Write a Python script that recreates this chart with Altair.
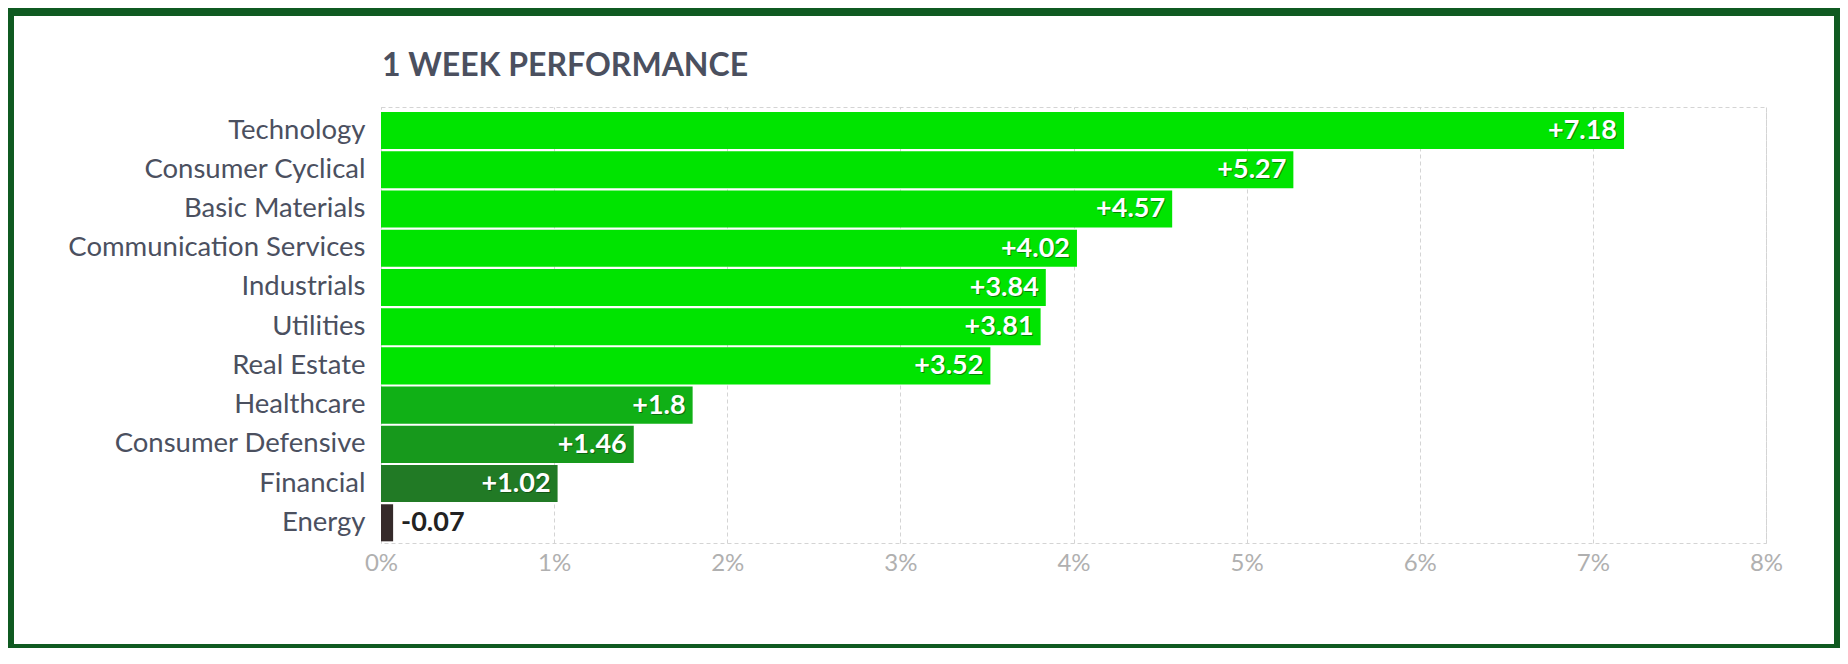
import altair as alt
import pandas as pd

# ---- data ----
title_text = "1 WEEK PERFORMANCE"
sectors = ["Technology", "Consumer Cyclical", "Basic Materials", "Communication Services",
           "Industrials", "Utilities", "Real Estate", "Healthcare", "Consumer Defensive",
           "Financial", "Energy"]
perf = [7.18, 5.27, 4.57, 4.02, 3.84, 3.81, 3.52, 1.8, 1.46, 1.02, -0.07]
x_ticks = [0, 1, 2, 3, 4, 5, 6, 7, 8]

# ---- styles ----
bar_colors = ["#00e400", "#00e400", "#00e400", "#00e400", "#00e400", "#00e400", "#00e400",
              "#10b016", "#17991c", "#217a25", "#352a2a"]
FRAME = "#0f5a21"
TEXT = "#4b505f"
W, H = 1385, 436

df = pd.DataFrame({"sector": sectors, "perf": perf})

base = alt.Chart(df).transform_calculate(
    mag="abs(datum.perf)",
    label="(datum.perf > 0 ? '+' : '') + datum.perf",
)

y_enc = alt.Y(
    "sector:N", sort=sectors,
    scale=alt.Scale(paddingInner=0.055, paddingOuter=0.085, align=0.75),
    axis=alt.Axis(title=None, labelFont="Lato", labelFontSize=27.5, labelColor=TEXT,
                  labelPadding=16, labelLimit=500, ticks=False, domain=False, grid=False),
)
x_enc = alt.X(
    "mag:Q",
    scale=alt.Scale(domain=[0, 8], nice=False),
    axis=alt.Axis(title=None, values=x_ticks, labelExpr="datum.value + '%'",
                  labelFont="Lato", labelFontSize=24, labelColor="#b0b0b0",
                  labelPadding=8, labelFlush=False, ticks=False, domain=False, grid=True,
                  gridColor="#d4d4d4", gridDash=[4, 3]),
)

bars = base.mark_bar().encode(
    x=x_enc, y=y_enc,
    color=alt.Color("sector:N", scale=alt.Scale(domain=sectors, range=bar_colors), legend=None),
)

shadow = base.transform_filter("datum.perf > 0").mark_text(
    align="right", baseline="middle", dx=-6, dy=1.5, font="Lato", fontSize=27,
    fontWeight="bold", color="#0a3a0a", opacity=0.55,
).encode(x="mag:Q", y=alt.Y("sector:N", sort=sectors), text="label:N")

inside = base.transform_filter("datum.perf > 0").mark_text(
    align="right", baseline="middle", dx=-7, dy=0.5, font="Lato", fontSize=27,
    fontWeight="bold", color="white",
).encode(x="mag:Q", y=alt.Y("sector:N", sort=sectors), text="label:N")

outside = base.transform_filter("datum.perf <= 0").mark_text(
    align="left", baseline="middle", dx=8, dy=0.5, font="Lato", fontSize=27,
    fontWeight="bold", color="#222222",
).encode(x="mag:Q", y=alt.Y("sector:N", sort=sectors), text="label:N")

title = alt.Chart(pd.DataFrame({"t": [title_text]})).mark_text(
    align="left", baseline="alphabetic", font="Lato", fontSize=32, fontWeight="bold",
    color=TEXT,
).encode(x=alt.value(1), y=alt.value(-31), text="t:N")

frame = alt.Chart(pd.DataFrame({"k": [0]})).mark_rect(
    fill="transparent", stroke=FRAME, strokeWidth=16,
).encode(
    x=alt.value(-375), x2=alt.value(1461), y=alt.value(-99), y2=alt.value(H + 109),
)

chart = alt.layer(bars, shadow, inside, outside, title, frame).properties(
    width=W, height=H,
    autosize=alt.AutoSizeParams(type="none"),
    padding={"left": 373, "top": 99, "right": 74, "bottom": 105},
    background="white",
).configure_view(stroke="#d4d4d4", strokeDash=[4, 3])

chart.save("out.html", embed_options={"renderer": "svg", "actions": False})
